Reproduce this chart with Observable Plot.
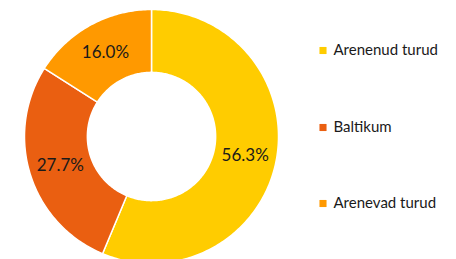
<!DOCTYPE html>
<html>
<head>
<meta charset="utf-8">
<script src="https://cdn.jsdelivr.net/npm/d3@7"></script>
<script src="https://cdn.jsdelivr.net/npm/@observablehq/plot@0.6"></script>
<style>
  html, body { margin: 0; padding: 0; background: #fff; }
  #chart { width: 456px; height: 259px; overflow: hidden; }
</style>
</head>
<body>
<div id="chart"></div>
<script>
const categories = ["Arenenud turud", "Baltikum", "Arenevad turud"];
const values = [56.3, 27.7, 16.0];
const labels = ["56.3%", "27.7%", "16.0%"];
const colors = ["#FFCC00", "#EA5F11", "#FF9900"];

const W = 456, H = 259;
const cx = 151, cy = 136, R = 127, innerFrac = 0.505;

const table = categories.map((c, i) => ({category: c, value: values[i], label: labels[i]}));
const pie = d3.pie().sort(null).value(d => d.value)(table);

// Build polygons in unit coordinates (outer radius 1)
const polys = [];
pie.forEach(p => {
  const n = Math.max(8, Math.ceil((p.endAngle - p.startAngle) * 60));
  const pts = [];
  for (let k = 0; k <= n; k++) {
    const a = p.startAngle + (p.endAngle - p.startAngle) * k / n;
    pts.push([Math.sin(a), Math.cos(a)]);
  }
  for (let k = n; k >= 0; k--) {
    const a = p.startAngle + (p.endAngle - p.startAngle) * k / n;
    pts.push([innerFrac * Math.sin(a), innerFrac * Math.cos(a)]);
  }
  pts.push(pts[0]);
  pts.forEach(([x, y]) => polys.push({category: p.data.category, x, y}));
});

const mid = (1 + innerFrac) / 2;
const labelData = pie.map(p => {
  const a = (p.startAngle + p.endAngle) / 2;
  return {label: p.data.label, x: mid * Math.sin(a), y: mid * Math.cos(a)};
});

// Legend in unit coordinates derived from pixel layout
const toX = px => (px - cx) / R;
const toY = py => (cy - py) / R;
const legendRows = [50, 127, 203];
const legendData = categories.map((c, i) => ({category: c, x: toX(322.5), tx: toX(333), y: toY(legendRows[i])}));

const chart = Plot.plot({
  width: W, height: H,
  margin: 0,
  x: {domain: [toX(0), toX(W)], axis: null},
  y: {domain: [toY(H), toY(0)], axis: null},
  color: {domain: categories, range: colors},
  style: {fontFamily: "Lato, 'Open Sans', sans-serif", background: "white"},
  marks: [
    Plot.line(polys, {x: "x", y: "y", z: "category", fill: "category", stroke: "white", strokeWidth: 1.5, curve: "linear"}),
    Plot.text(labelData, {x: "x", y: "y", text: "label", fontSize: 17, fill: "#1a1a1a"}),
    Plot.dot(legendData, {x: "x", y: "y", symbol: "square", r: 4, fill: "category", stroke: "none"}),
    Plot.text(legendData, {x: "tx", y: "y", text: "category", textAnchor: "start", fontSize: 15, fill: "#1a1a1a"})
  ]
});
document.getElementById("chart").appendChild(chart);
</script>
</body>
</html>
